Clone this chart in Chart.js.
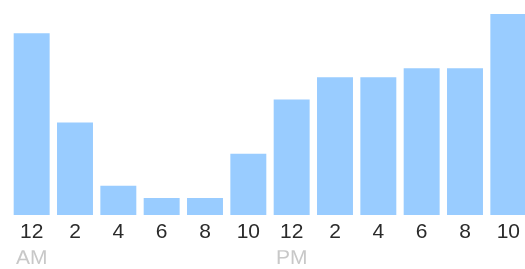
<!DOCTYPE html>
<html>
<head>
<meta charset="utf-8">
<script src="https://cdn.jsdelivr.net/npm/chart.js@4/dist/chart.umd.min.js"></script>
<style>
  html, body { margin: 0; padding: 0; overflow: hidden; background: #fff; }
  #wrap { width: 530px; height: 269px; }
</style>
</head>
<body>
<div id="wrap"><canvas id="hoursCanvas" width="530" height="269"></canvas></div>
<script>
'use strict'

// hours of the day, two hour steps
let hourLabels = ['12', '2', '4', '6', '8', '10', '12', '2', '4', '6', '8', '10'];
let periodLabels = ['AM', '', '', '', '', '', 'PM', '', '', '', '', ''];
let visits = [181, 92, 29, 17, 17, 61, 115, 137, 137, 146, 146, 200];

let myChart = new Chart(document.getElementById('hoursCanvas'), {
  type: 'bar',
  data: {
    labels: hourLabels,
    datasets: [
      {
        label: 'Visits',
        data: visits,
        backgroundColor: '#99ccff',
        borderWidth: 0,
        barPercentage: 0.83,
        categoryPercentage: 1
      }
    ]
  },
  options: {
    responsive: false,
    animation: false,
    layout: { padding: { left: 10, right: 0, top: 0, bottom: 2 } },
    plugins: {
      legend: { display: false },
      tooltip: { enabled: false }
    },
    scales: {
      x: {
        grid: { display: false, drawTicks: false },
        border: { display: false },
        ticks: {
          color: '#2a2a2a',
          padding: 5,
          maxRotation: 0,
          autoSkip: false,
          font: { family: 'Arial, "Liberation Sans"', size: 21 }
        }
      },
      x2: {
        type: 'category',
        position: 'bottom',
        labels: periodLabels,
        offset: true,
        grid: { display: false, drawTicks: false },
        border: { display: false },
        ticks: {
          color: '#c8c8c8',
          padding: 0,
          maxRotation: 0,
          autoSkip: false,
          font: { family: 'Arial, "Liberation Sans"', size: 21, lineHeight: 0.8 }
        }
      },
      y: {
        display: false,
        min: 0,
        max: 214
      }
    }
  }
});
</script>
</body>
</html>
